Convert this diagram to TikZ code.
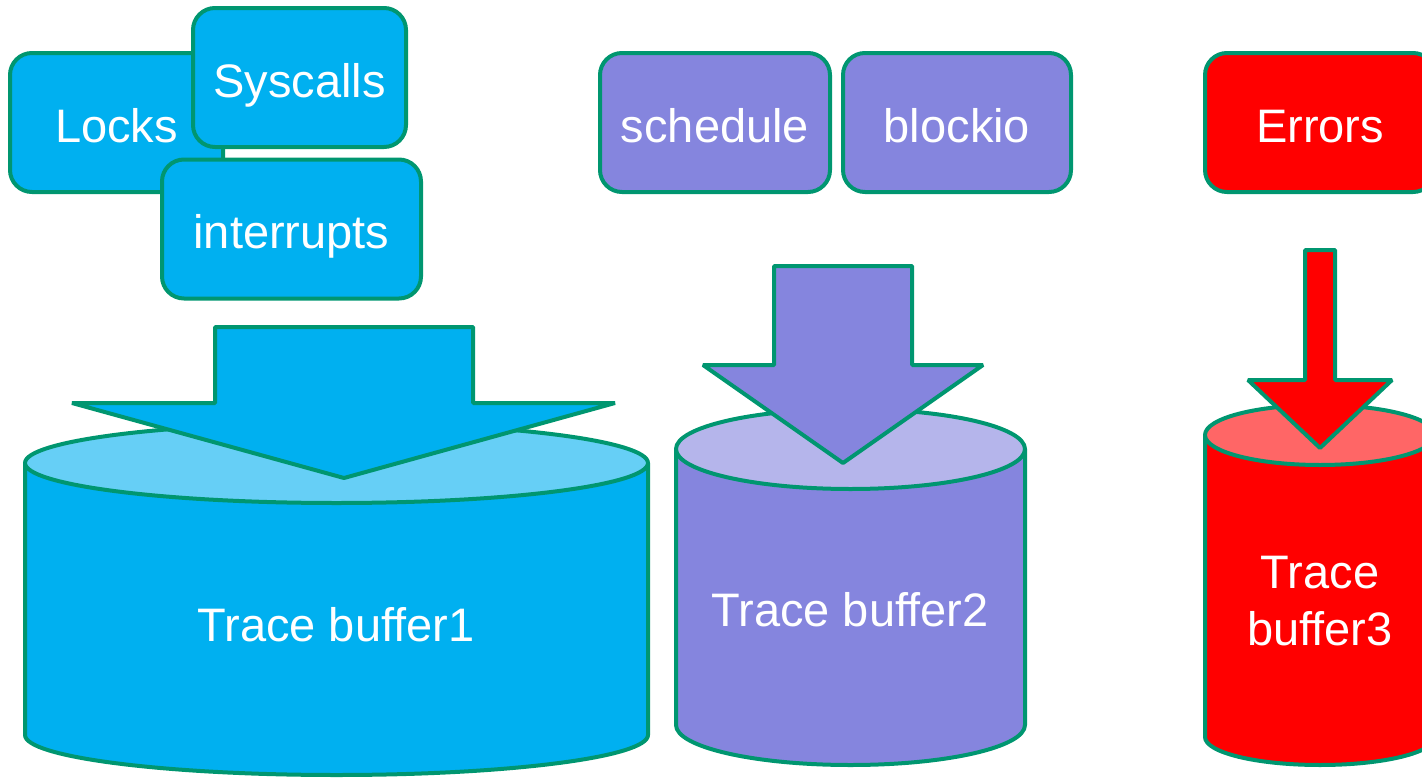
\documentclass[tikz,border=0pt]{standalone}
\usepackage{fontspec}
\setmainfont{Liberation Sans}
\definecolor{rim}{HTML}{009670}
\definecolor{cblue}{HTML}{00B0F0}
\definecolor{cbluetop}{HTML}{66CFF6}
\definecolor{cpurple}{HTML}{8585DE}
\definecolor{cpurpletop}{HTML}{B5B5EB}
\definecolor{cred}{HTML}{FF0000}
\definecolor{credtop}{HTML}{FF6666}
\tikzset{
  edge/.style={draw=rim, line width=4pt, line join=bevel},
  lbl/.style={text=white, font=\fontsize{47}{57}\selectfont, inner sep=0pt, align=center},
  oneline/.style={lbl, text height=39pt, text depth=0pt},
  srcbox/.style={edge, oneline, rounded corners=22pt, minimum width=#1, minimum height=139pt, outer sep=0pt},
}
\begin{document}
\begin{tikzpicture}[x=1pt, y=-1pt]
\useasboundingbox (0,0) rectangle (1422,779);

% ---- event sources ----
\node[srcbox=213pt, fill=cblue] (locks) at (116.5,122.5) {Locks};
\node[srcbox=213pt, fill=cblue] (syscalls) at (299.5,77.5) {Syscalls};
\node[srcbox=259pt, fill=cblue] (irq) at (291.5,229) {interrupts};
\node[srcbox=230pt, fill=cpurple] (sched) at (715,122.5) {schedule};
\node[srcbox=228pt, fill=cpurple] (bio) at (957,122.5) {blockio};
\node[srcbox=230pt, fill=cred] (err) at (1320,122.5) {Errors};

% ---- buffer 1 ----
\filldraw[edge, fill=cblue] (25,463) -- (25,735)
  arc[start angle=180, end angle=360, x radius=311.5pt, y radius=40pt] -- (648,463) -- cycle;
\filldraw[edge, fill=cbluetop] (336.5,463) ellipse[x radius=311.5pt, y radius=40pt];
\filldraw[edge, fill=cblue] (215,327) -- (473,327) -- (473,403) -- (615,403)
  -- (344,478) -- (72,403) -- (215,403) -- cycle;
\node[oneline] (buf1) at (336,622) {Trace buffer1};

% ---- buffer 2 ----
\filldraw[edge, fill=cpurple] (676,449) -- (676,725)
  arc[start angle=180, end angle=360, x radius=174.5pt, y radius=40pt] -- (1025,449) -- cycle;
\filldraw[edge, fill=cpurpletop] (850.5,449) ellipse[x radius=174.5pt, y radius=40pt];
\filldraw[edge, fill=cpurple] (774,266) -- (912,266) -- (912,365) -- (983,365)
  -- (843,463) -- (703,365) -- (774,365) -- cycle;
\node[oneline] (buf2) at (850,607) {Trace buffer2};

% ---- buffer 3 ----
\filldraw[edge, fill=cred] (1205,435) -- (1205,737)
  arc[start angle=180, end angle=360, x radius=115pt, y radius=28pt] -- (1435,435) -- cycle;
\filldraw[edge, fill=credtop] (1320,435) ellipse[x radius=115pt, y radius=30pt];
\filldraw[edge, fill=cred] (1305,250) -- (1335,250) -- (1335,380) -- (1392,380)
  -- (1320,448) -- (1248,380) -- (1305,380) -- cycle;
\node[lbl] (buf3) at (1320,601) {Trace\\buffer3};
\end{tikzpicture}
\end{document}
